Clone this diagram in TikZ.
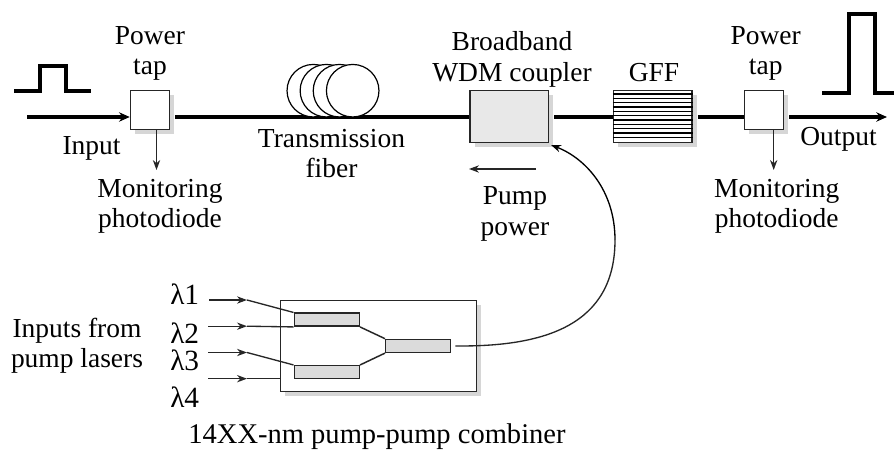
\documentclass[tikz,border=0pt]{standalone}
\usepackage{fontspec}
\setmainfont{Liberation Serif}
\usetikzlibrary{arrows.meta,shadows,calc}
\tikzset{
  x=0.75pt,y=-0.75pt,
  lbl/.style={anchor=base,inner sep=0pt,font=\fontsize{20.6pt}{24pt}\selectfont},
  lam/.style={anchor=base west,inner sep=0pt,font=\fontsize{22pt}{24pt}\selectfont},
  shad/.style={drop shadow={shadow xshift=3.4pt,shadow yshift=-3.4pt,fill=black!16,opacity=1}},
  boxed/.style={draw=black!85,line width=1.1pt,fill=white,inner sep=0pt,shad},
  tapbox/.style={boxed,minimum width=29.25pt,minimum height=29.25pt},
  wide/.style={boxed,minimum width=58.9pt,minimum height=39pt},
  splitter/.style={draw=black!85,line width=1.1pt,fill=black!14,inner sep=0pt,minimum width=48.75pt,minimum height=9.75pt},
  fiber/.style={line width=2.4pt,black},
  pulse/.style={line width=2.7pt,black,line join=miter},
  thinline/.style={line width=1pt,black!85},
  tip/.style={-{Stealth[length=7.5pt,width=5.5pt]}},
  fibertip/.style={-{Stealth[length=8pt,width=7pt]}},
  coil/.style={draw=black,line width=0.9pt,fill=white,circle,inner sep=0pt,minimum size=39.4pt},
}
\begin{document}
\begin{tikzpicture}
\useasboundingbox (0,0) rectangle (894,452);
\coordinate (main) at (0,117);
\node[tapbox] (tapa) at (150,110) {};
\node[wide,fill=black!9] (coupler) at (509.3,116.5) {};
\node[wide] (gff) at (652.8,116.5) {};
\node[tapbox] (tapb) at (763.8,110) {};
\coordinate (instart) at (27,117);
\coordinate (outend) at (887,117);
\draw[fiber,fibertip] (instart) -- (tapa.west |- main);
\draw[fiber,shorten <=3.75pt] (tapa.east |- main) -- (coupler.west |- main);
\draw[fiber,shorten <=3.75pt] (coupler.east |- main) -- (gff.west |- main);
\draw[fiber,shorten <=3.75pt] (gff.east |- main) -- (tapb.west |- main);
\draw[fiber,fibertip,shorten <=3.75pt] (tapb.east |- main) -- (outend);
% GFF grating
\foreach \i in {1,...,11}{
  \draw[line width=1pt,black] ($(gff.north west)+(0,{\i*4.33})$) -- ($(gff.north east)+(0,{\i*4.33})$);
}
% fibre coil
\node[coil] (coila) at (313.3,90.7) {};
\node[coil] (coilb) at (326.4,90.7) {};
\node[coil] (coilc) at (339.5,90.7) {};
\node[coil] (coild) at (352.7,90.7) {};
% pulses
\coordinate (pa1) at (14,91);\coordinate (pa2) at (40,91);\coordinate (pa3) at (40,66);
\coordinate (pa4) at (66,66);\coordinate (pa5) at (66,91);\coordinate (pa6) at (91,91);
\draw[pulse] (pa1) -- (pa2) -- (pa3) -- (pa4) -- (pa5) -- (pa6);
\coordinate (pb1) at (822,93);\coordinate (pb2) at (849,93);\coordinate (pb3) at (849,14);
\coordinate (pb4) at (875,14);\coordinate (pb5) at (875,93);\coordinate (pb6) at (894,93);
\draw[line width=3.2pt,black] (pb1) -- (pb2) -- (pb3) -- (pb4) -- (pb5) -- (pb6);
% top labels
\node[lbl] (powa) at (150,44.7) {Power};
\node[lbl] (tapla) at (150,75) {tap};
\node[lbl] (inp) at (91.5,155) {Input};
\node[lbl] (mona) at (160,198) {Monitoring};
\node[lbl] (phoa) at (160,228) {photodiode};
\node[lbl] (tra) at (331.5,147.7) {Transmission};
\node[lbl] (fib) at (331.5,178) {fiber};
\node[lbl] (brd) at (512,51) {Broadband};
\node[lbl] (wdm) at (512,82) {WDM coupler};
\node[lbl] (gfl) at (654,82) {GFF};
\node[lbl] (powb) at (765.7,44.7) {Power};
\node[lbl] (taplb) at (765.7,75) {tap};
\node[lbl] (outp) at (838.5,146) {Output};
\node[lbl] (monb) at (776.7,198) {Monitoring};
\node[lbl] (phob) at (776.7,228) {photodiode};
\node[lbl] (pum) at (515,205) {Pump};
\node[lbl] (pow) at (515,236) {power};
% taps
\coordinate (mta) at (156.5,170);
\coordinate (mtb) at (773.7,170);
\draw[thinline,tip] (mta |- tapa.south) -- (mta);
\draw[thinline,tip] (mtb |- tapb.south) -- (mtb);
% pump direction
\coordinate (pdr) at (536,169);
\coordinate (pdl) at (469,169);
\draw[thinline,tip] (pdr) -- (pdl);
% combiner
\node[boxed,minimum width=147.2pt,minimum height=68.6pt] (comb) at (378.6,346) {};
\node[splitter] (spa) at (326.8,319.7) {};
\node[splitter] (spb) at (326.8,372.2) {};
\node[splitter] (spc) at (418.2,345.9) {};
\draw[line width=1.1pt,black!85] (spa.south east) -- (spc.north west);
\draw[line width=1.1pt,black!85] (spb.north east) -- (spc.south west);
% inputs
\coordinate (ia) at (209,300);\coordinate (ka) at (247,300);
\coordinate (ib) at (208,326.2);\coordinate (kb) at (247,326.2);
\coordinate (ic) at (208,352.5);\coordinate (kc) at (247,352.5);
\coordinate (id) at (208,378.7);\coordinate (kd) at (247,378.7);
\draw[thinline,tip] (ia) -- (ka);
\draw[thinline,tip] (ib) -- (kb);
\draw[thinline,tip] (ic) -- (kc);
\draw[thinline,tip] (id) -- (kd);
\draw[thinline] (ka) -- (spa.north west);
\draw[thinline] (kb) -- (spa.south west);
\draw[thinline] (kc) -- (spb.north west);
\draw[thinline] (kd) -- (comb.west |- kd);
% pump feed
\coordinate (feedmid) at (615,240);
\coordinate (feedend) at (551,145);
\draw[line width=1pt,black!85,shorten <=3pt] (spc.east) .. controls (545,347) and (615,325) .. (feedmid);
\draw[line width=1pt,black,tip] (feedmid) .. controls (615,190) and (585,158) .. (feedend);
% lambda and lower labels
\node[lam] (la) at (170,305) {λ1};
\node[lam] (lb) at (170,344) {λ2};
\node[lam] (lc) at (170,371) {λ3};
\node[lam] (ld) at (170,408) {λ4};
\node[lbl] (ifa) at (77,338) {Inputs from};
\node[lbl] (ifb) at (77,368) {pump lasers};
\node[lbl,font=\fontsize{21.4pt}{24pt}\selectfont] (cmb) at (377,444) {14XX-nm pump-pump combiner};
\end{tikzpicture}
\end{document}
